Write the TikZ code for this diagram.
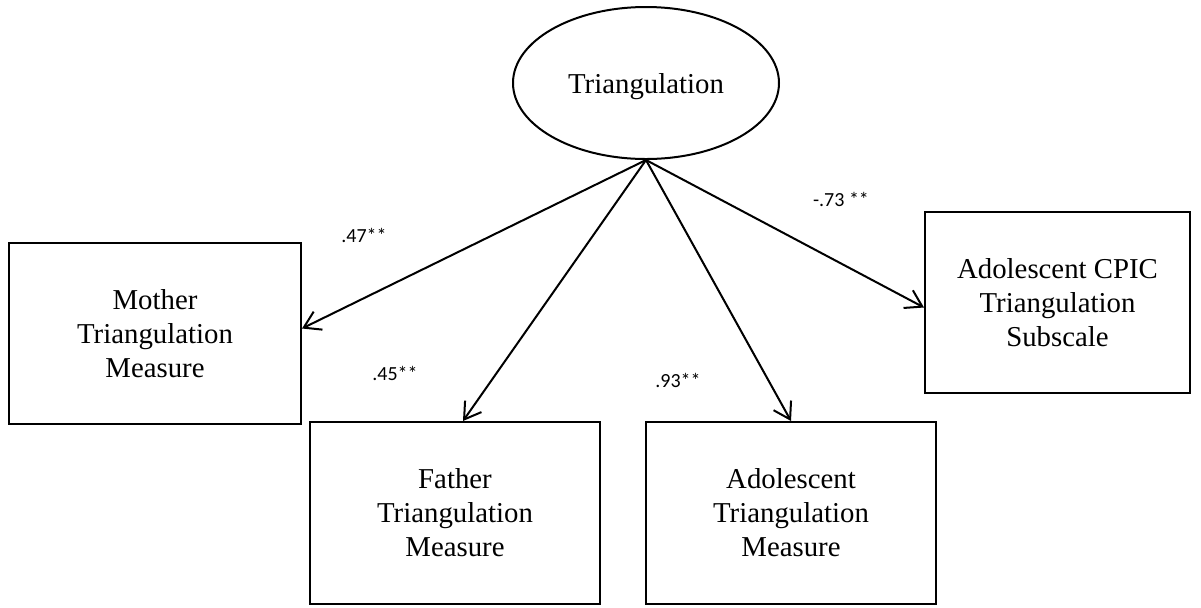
\documentclass[tikz,border=0pt]{standalone}
\usepackage{fontspec}
\setmainfont{Liberation Serif}
\newfontfamily\labelfont{Carlito}
\usepackage{tikz}
\usetikzlibrary{shapes.geometric,positioning,arrows.meta}
\tikzset{latent/.style={ellipse,draw,minimum width=133pt,minimum height=76pt,inner sep=0pt,line width=1pt,text depth=0pt,font=\fontsize{14.4}{17}\selectfont}}
\tikzset{measure/.style={rectangle,draw,minimum width=145pt,minimum height=90.5pt,inner sep=0pt,line width=1pt,align=center,font=\fontsize{14.4}{17}\selectfont}}
\tikzset{loading/.style={draw=none,color=black,font=\labelfont\fontsize{10}{12}\selectfont}}

\begin{document}
\begin{tikzpicture}[x=0.5pt,y=-0.5pt,>={Straight Barb[length=8pt,width=10pt]}]
        \useasboundingbox (0,0) rectangle (1201,607);
        \node[latent] (tri) at (646,83) {Triangulation};
        \node[measure,minimum width=146pt] (mother) at (155,333.5) {Mother\\Triangulation\\Measure};
        \node[measure,minimum height=91pt] (father) at (455,513) {Father\\Triangulation\\Measure};
        \node[measure,minimum height=91pt] (adol) at (791,513) {Adolescent\\Triangulation\\Measure};
        \node[measure,minimum width=132.5pt] (cpic) at (1057.5,302.5) {Adolescent CPIC\\Triangulation\\Subscale};

        \node[loading] (l-mother) at (364,235) {.47**};
        \node[loading] (l-father) at (395,373) {.45**};
        \node[loading] (l-adol) at (678,380) {.93**};
        \node[loading] (l-cpic) at (841,199) {-.73 **};

        \draw[->,line width=1pt] (tri.south) to ([yshift=2.5pt]mother.east);
        \draw[->,line width=1pt] (tri.south) to ([xshift=4pt]father.north);
        \draw[->,line width=1pt] (tri.south) to (adol.north);
        \draw[->,line width=1pt] (tri.south) to ([yshift=-2.5pt]cpic.west);
    \end{tikzpicture}
\end{document}
